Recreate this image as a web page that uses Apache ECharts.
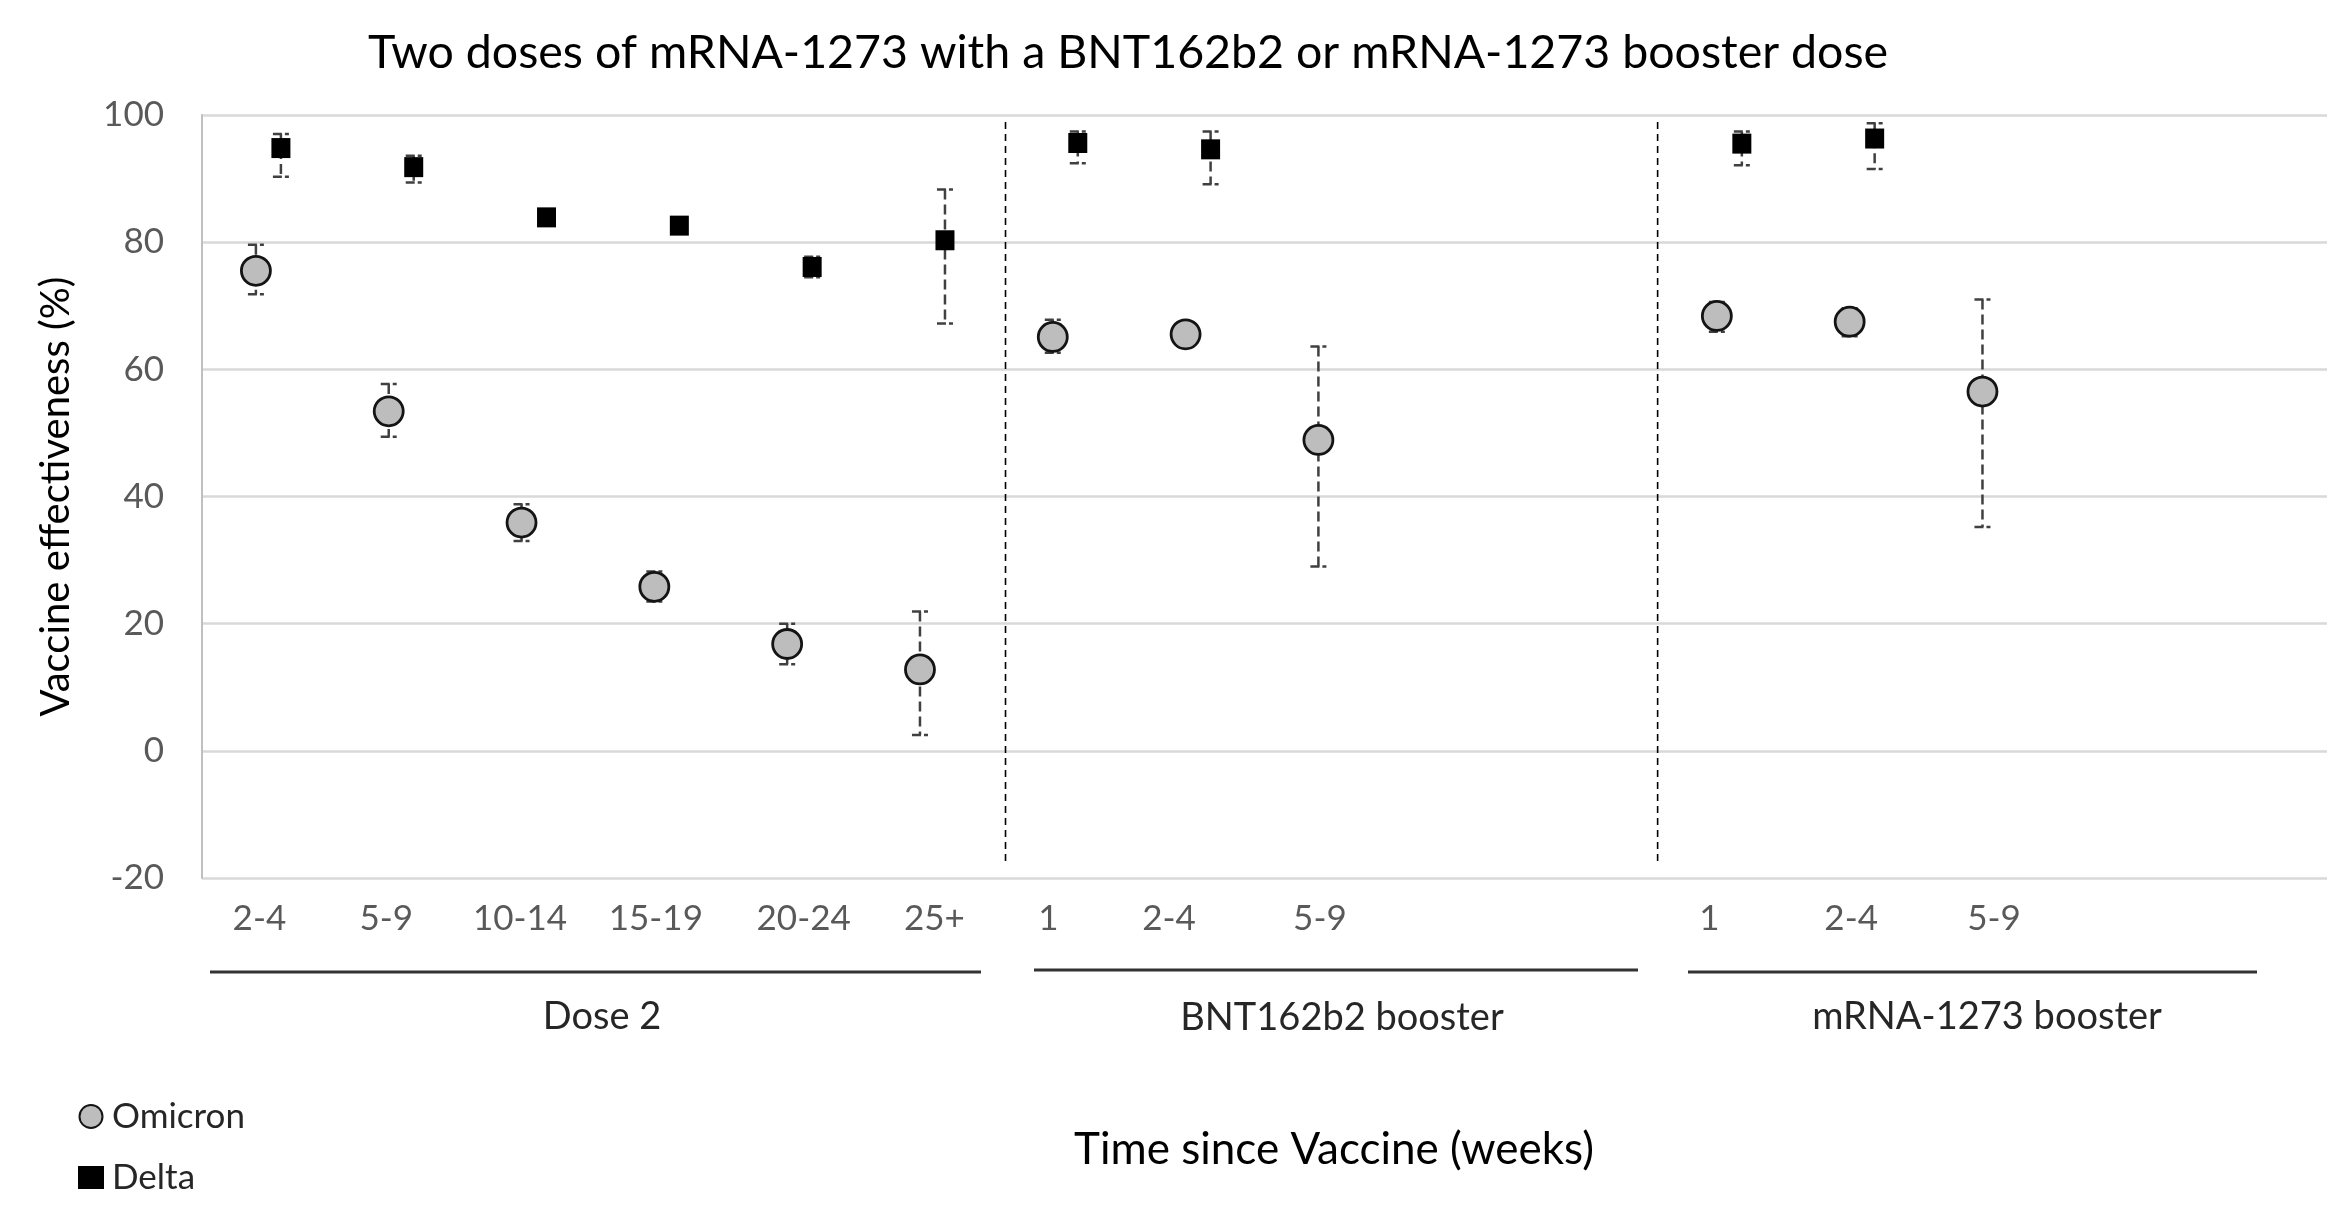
<!DOCTYPE html>
<html>
<head>
<meta charset="utf-8">
<script src="https://cdn.jsdelivr.net/npm/echarts@6/dist/echarts.min.js"></script>
<style>html,body{margin:0;padding:0;background:#fff}#c{width:2344px;height:1205px}</style>
</head>
<body>
<div id="c"></div>
<script>
// ---- data ----
const categories = ['2-4','5-9','10-14','15-19','20-24','25+','1','2-4','5-9','','','1','2-4','5-9','',''];
const omicron     = [75.5, 53.4, 35.9, 25.8, 16.8, 12.8, 65.1, 65.5, 48.9, null, null, 68.4, 67.5, 56.5, null, null];
const omicronLow  = [71.8, 49.4, 33.0, 23.5, 13.6,  2.5, 62.6, 64.2, 29.0, null, null, 65.9, 65.2, 35.2, null, null];
const omicronHigh = [79.6, 57.7, 38.8, 28.2, 20.0, 21.9, 67.8, 67.0, 63.6, null, null, 70.6, 69.6, 71.0, null, null];
const delta       = [94.8, 91.8, 83.9, 82.6, 76.1, 80.3, 95.6, 94.6, null, null, null, 95.5, 96.3, null, null, null];
const deltaLow    = [90.3, 89.4, 83.2, 81.9, 74.5, 67.2, 92.4, 89.1, null, null, null, 92.1, 91.5, null, null, null];
const deltaHigh   = [97.0, 93.6, 84.6, 83.3, 77.7, 88.3, 97.4, 97.4, null, null, null, 97.4, 98.7, null, null, null];
const yTicks = [-20, 0, 20, 40, 60, 80, 100];
const groups = ['Dose 2', 'BNT162b2 booster', 'mRNA-1273 booster'];
const separators = [6.05, 10.96]; // in category-slot units
const titleText = 'Two doses of mRNA-1273 with a BNT162b2 or mRNA-1273 booster dose';
const yName = 'Vaccine effectiveness (%)';
const xName = 'Time since Vaccine (weeks)';

// label nudges (style only, px): negative = left
const labelNudge = [-9, -15, -14, -11, 4, 2, -17, -29, -11, 0, 0, -20, -11, -1, 0, 0];

const FONT = 'Lato';
const pts = (vals) => vals.map((v, i) => v == null ? null : [i, v]).filter(Boolean);
const bars = (lo, hi) => lo.map((v, i) => v == null ? null : [i, v, hi[i]]).filter(Boolean);

function errRender(offset) {
  return function (params, api) {
    const x = api.value(0);
    const pLo = api.coord([x, api.value(1)]);
    const pHi = api.coord([x, api.value(2)]);
    const cx = pLo[0] + offset;
    const st = { stroke: '#404040', lineWidth: 2.5, lineDash: [10, 5] };
    const cap = { stroke: '#404040', lineWidth: 2.5, lineDash: [9, 3] };
    const w = 8;
    return {
      type: 'group',
      children: [
        { type: 'line', shape: { x1: cx, y1: pHi[1], x2: cx, y2: pLo[1] }, style: st },
        { type: 'line', shape: { x1: cx - w, y1: pHi[1], x2: cx + w, y2: pHi[1] }, style: cap },
        { type: 'line', shape: { x1: cx - w, y1: pLo[1], x2: cx + w, y2: pLo[1] }, style: cap }
      ]
    };
  };
}

const rich = {};
labelNudge.forEach((n, i) => {
  rich['s' + i] = {
    fontFamily: FONT, fontSize: 35, color: '#595959',
    padding: n < 0 ? [0, -2 * n, 0, 0] : [0, 0, 0, 2 * n]
  };
});

const chart = echarts.init(document.getElementById('c'), null, { renderer: 'canvas' });
const OFF = 12.5;
chart.setOption({
  backgroundColor: '#fff',
  animation: false,
  textStyle: { fontFamily: FONT },
  title: {
    text: titleText, left: 1123, top: 24, textAlign: 'center',
    textStyle: { fontFamily: FONT, fontSize: 46.5, fontWeight: 'normal', color: '#000' }
  },
  grid: { left: 202, right: 17, top: 115, bottom: 327, containLabel: false },
  legend: {
    data: ['Omicron', 'Delta'], orient: 'vertical', left: 73, top: 1094,
    itemWidth: 26, itemHeight: 23, itemGap: 26,
    textStyle: { fontFamily: FONT, fontSize: 35, color: '#262626', padding: [0, 0, 0, 3] }
  },
  xAxis: [{
    type: 'category', data: categories, boundaryGap: true,
    axisLine: { show: false }, axisTick: { show: false }, splitLine: { show: false },
    axisLabel: {
      interval: 0, margin: 23, fontFamily: FONT, fontSize: 35, color: '#595959',
      formatter: function (v, i) { return v === '' ? '' : '{s' + i + '|' + v + '}'; },
      rich: rich
    }
  }, {
    type: 'value', min: 0, max: 16, show: false
  }],
  yAxis: {
    type: 'value', min: -20, max: 100, interval: 20,
    axisLine: { show: true, lineStyle: { color: '#bfbfbf', width: 2 } },
    axisTick: { show: false },
    splitLine: { show: true, lineStyle: { color: '#d9d9d9', width: 2.5 } },
    axisLabel: { margin: 38, fontFamily: FONT, fontSize: 35, color: '#595959' },
    name: yName, nameLocation: 'middle', nameRotate: 90, nameGap: 126,
    nameTextStyle: { fontFamily: FONT, fontSize: 40, color: '#000' }
  },
  series: [
    { type: 'custom', name: 'sep', xAxisIndex: 1, data: separators.map(s => [s]), z: 1, silent: true,
      renderItem: function (params, api) {
        const x = api.value(0);
        const a = api.coord([x, 98.9]), b = api.coord([x, -18]);
        return { type: 'line', shape: { x1: a[0], y1: a[1], x2: b[0], y2: b[1] },
          style: { stroke: '#000', lineWidth: 1.6, lineDash: [7, 5] } };
      } },
    { type: 'custom', name: 'omicronCI', data: bars(omicronLow, omicronHigh), encode: { x: 0, y: [1, 2] },
      renderItem: errRender(-OFF), z: 2, silent: true },
    { type: 'custom', name: 'deltaCI', data: bars(deltaLow, deltaHigh), encode: { x: 0, y: [1, 2] },
      renderItem: errRender(OFF), z: 2, silent: true },
    { type: 'scatter', name: 'Omicron', data: pts(omicron), symbol: 'circle', symbolSize: 29,
      symbolOffset: [-OFF, 0], z: 5,
      itemStyle: { color: '#bdbdbd', borderColor: '#141414', borderWidth: 2.8, opacity: 1 } },
    { type: 'scatter', name: 'Delta', data: pts(delta), symbol: 'rect', symbolSize: [19, 20],
      symbolOffset: [OFF, 0], z: 5,
      itemStyle: { color: '#000', borderColor: '#000', borderWidth: 0, opacity: 1 } }
  ],
  graphic: [
    { type: 'line', shape: { x1: 210, y1: 972, x2: 981, y2: 972 }, style: { stroke: '#333', lineWidth: 3 } },
    { type: 'line', shape: { x1: 1034, y1: 970, x2: 1638, y2: 970 }, style: { stroke: '#333', lineWidth: 3 } },
    { type: 'line', shape: { x1: 1688, y1: 972, x2: 2257, y2: 972 }, style: { stroke: '#333', lineWidth: 3 } },
    { type: 'text', x: 602, y: 1017, style: { text: groups[0], font: '38px Lato', fill: '#262626', textAlign: 'center', textVerticalAlign: 'middle' } },
    { type: 'text', x: 1342, y: 1018, style: { text: groups[1], font: '38px Lato', fill: '#262626', textAlign: 'center', textVerticalAlign: 'middle' } },
    { type: 'text', x: 1987, y: 1017, style: { text: groups[2], font: '38px Lato', fill: '#262626', textAlign: 'center', textVerticalAlign: 'middle' } },
    { type: 'text', x: 1334, y: 1150, style: { text: xName, font: '44px Lato', fill: '#000', textAlign: 'center', textVerticalAlign: 'middle' } }
  ]
});
</script>
</body>
</html>
